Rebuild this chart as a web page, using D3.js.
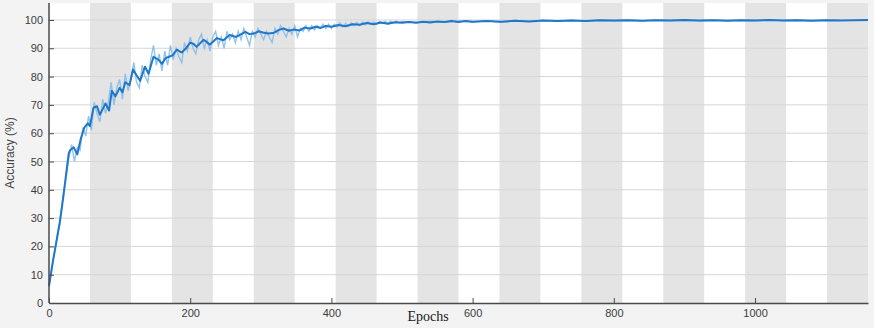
<!DOCTYPE html>
<html>
<head>
<meta charset="utf-8">
<script src="https://cdn.jsdelivr.net/npm/d3@7"></script>
<style>
  html, body { margin: 0; padding: 0; background: #f3f3f3; }
  svg { display: block; }
</style>
</head>
<body>
<svg id="chart" width="874" height="328"></svg>
<script>
// Smoothed training accuracy (%) per epoch
const smoothEpochs = [0,5,10,15,20,25,28,30,35,40,45,50,55,58,63,68,72,76,80,85,89,94,100,104,108,114,119,124,129,136,141,148,155,160,165,170,175,181,188,194,200,205,209,219,228,238,247,256,265,271,278,284,290,297,303,310,318,325,332,340,346,355,362,370,378,385,392,400,410,420,430,440,450,460,470,480,490,500,510,520,530,540,550,560,570,580,590,600,620,640,660,680,700,720,740,760,780,800,820,840,860,880,900,920,940,960,980,1000,1020,1040,1060,1080,1100,1120,1140,1160];
const smoothAcc = [6,14,21,28,37,47,53,54,55,52.5,58,62,63.5,62.5,69,69.5,66.5,68.5,70.5,68,75,73,76,74.5,78,77,82.5,80.5,78.5,83.5,81,87,86,84.5,86.5,87,87.5,89.5,88.5,90,92,91.5,90.5,93,91.3,93.6,92.8,94.7,94,94.8,95.8,95,95.2,96,95.6,95.2,95.4,96.4,97,96.2,96.6,96.3,97.3,97,97.6,97.2,97.9,97.6,98.2,97.8,98.5,98.3,98.9,98.5,99.1,98.7,99.2,99.0,99.3,99.0,99.4,99.1,99.5,99.3,99.6,99.3,99.6,99.4,99.6,99.4,99.7,99.5,99.8,99.6,99.8,99.6,99.9,99.8,99.9,99.7,99.9,99.8,100,99.8,99.9,99.7,99.9,99.8,100,99.8,99.9,99.7,99.9,99.8,99.9,100];

// Raw (per-iteration) accuracy (%)
const rawEpochs = [0,4,8,12,16,20,24,28,32,36,40,44,48,52,56,60,64,68,72,76,80,84,88,92,96,100,104,108,112,116,120,124,128,132,136,140,144,148,152,156,160,164,168,172,176,180,184,188,192,196,200,204,208,212,216,220,224,228,232,236,240,244,248,252,256,260,264,268,272,276,280,284,288,292,296,300,304,308,312,316,320,324,328,332,336,340,344,348,352,356,360,364,368,372,376,380,384,388,392,396,400,404,408,412,416,420,424,428,432,436,440,444,448,452,456,460,464,468,472,476,480,484,488,492,496,500,520,540,560,580,600,620,640,660,680,700,720,740,760,780,800,820,840,860,880,900,920,940,960,980,1000,1020,1040,1060,1080,1100,1120,1140,1160];
const rawAcc = [6,12,18,24.5,30,38,44,51,56,50,55,54,62,59,66,61,71,67,64,72,67,71,78,70,76,79,72,81,75,79,85,78,76,84,80,78,86,91,84,88,82,89,84,91,86,90,87,85,92,89,94,90,88,93,95,90,93,89,94,96,91,94,90,96,93,95,92,96,93,97,94,91,96,94,97,95,93,96,94,92,97,95,98,96,94,97,95,98,94,97,96,98,96,98,96.5,98,97,98.5,97,98.5,97,98.5,97.5,99,97.5,98.8,97.8,99,98,99.2,98,99.3,98.3,99.4,98.5,99.3,98.5,99.5,98.8,99.5,98.8,99.6,99,99.6,99,99.5,99.1,99.6,99.2,99.7,99.3,99.7,99.3,99.8,99.5,99.8,99.5,99.9,99.6,99.9,99.7,99.9,99.7,100,99.8,99.9,99.7,100,99.8,99.9,99.8,100,99.8,99.9,99.8,99.9,100];

const xTicks = [0,200,400,600,800,1000];
const yTicks = [0,10,20,30,40,50,60,70,80,90,100];
// Shaded epoch blocks (start, end)
const bandStarts = [58,174,290,406,522,638,754,870,986,1102];
const bandWidth = 58;

const W = 874, H = 328;
const margin = {left: 49, right: 6, top: 3, bottom: 25};
const svg = d3.select("#chart");

const x = d3.scaleLinear().domain([0, 1160]).range([margin.left, W - margin.right]);
const y = d3.scaleLinear().domain([0, 106]).range([H - margin.bottom, margin.top]);

// plot background
svg.append("rect")
  .attr("x", x(0)).attr("y", y(106))
  .attr("width", x(1160) - x(0)).attr("height", y(0) - y(106))
  .attr("fill", "#ffffff");

// alternating shaded bands
svg.append("g").selectAll("rect").data(bandStarts).join("rect")
  .attr("x", d => x(d))
  .attr("y", y(106))
  .attr("width", d => x(d + bandWidth) - x(d))
  .attr("height", y(0) - y(106))
  .attr("fill", "#e4e4e4");

// horizontal grid
svg.append("g").selectAll("line").data(yTicks.slice(1)).join("line")
  .attr("x1", x(0)).attr("x2", x(1160))
  .attr("y1", d => y(d)).attr("y2", d => y(d))
  .attr("stroke", "#d6d6d6").attr("stroke-width", 1);

// raw accuracy trace
const line = d3.line().x(d => x(d[0])).y(d => y(d[1]));
svg.append("path")
  .datum(rawEpochs.map((e, i) => [e, rawAcc[i]]))
  .attr("d", line)
  .attr("fill", "none")
  .attr("stroke", "#86bce9")
  .attr("stroke-width", 1.4)
  .attr("opacity", 0.9);

// smoothed accuracy
svg.append("path")
  .datum(smoothEpochs.map((e, i) => [e, smoothAcc[i]]))
  .attr("d", line)
  .attr("fill", "none")
  .attr("stroke", "#1f77c9")
  .attr("stroke-width", 2)
  .attr("stroke-linejoin", "round");

// axes
const axisColor = "#4a4a4a";
const xAxis = svg.append("g")
  .attr("transform", `translate(0,${y(0)})`)
  .call(d3.axisBottom(x).tickValues(xTicks).tickFormat(d3.format("d"))
    .tickSizeInner(-5).tickSizeOuter(0).tickPadding(6));
const yAxis = svg.append("g")
  .attr("transform", `translate(${x(0)},0)`)
  .call(d3.axisLeft(y).tickValues(yTicks).tickFormat(d3.format("d"))
    .tickSizeInner(-5).tickSizeOuter(0).tickPadding(6));

[xAxis, yAxis].forEach(g => {
  g.select(".domain").attr("stroke", axisColor).attr("stroke-width", 1.5);
  g.selectAll(".tick line").attr("stroke", axisColor);
  g.selectAll(".tick text")
    .attr("fill", "#3c3c3c")
    .style("font-family", "'Liberation Sans', Arial, sans-serif")
    .style("font-size", "11px");
});
// y axis line runs to the top of the plot
yAxis.select(".domain").attr("d", `M0,${y(0)}V${y(106)}`);

// axis titles
svg.append("text")
  .attr("transform", `translate(14,${(y(0) + y(106)) / 2}) rotate(-90)`)
  .attr("text-anchor", "middle")
  .attr("fill", "#444")
  .style("font-family", "'Liberation Sans', Arial, sans-serif")
  .style("font-size", "12px")
  .text("Accuracy (%)");

svg.append("text")
  .attr("x", 428).attr("y", 321)
  .attr("text-anchor", "middle")
  .attr("fill", "#1a1a1a")
  .style("font-family", "'Liberation Serif', 'Times New Roman', serif")
  .style("font-size", "14px")
  .text("Epochs");
</script>
</body>
</html>
